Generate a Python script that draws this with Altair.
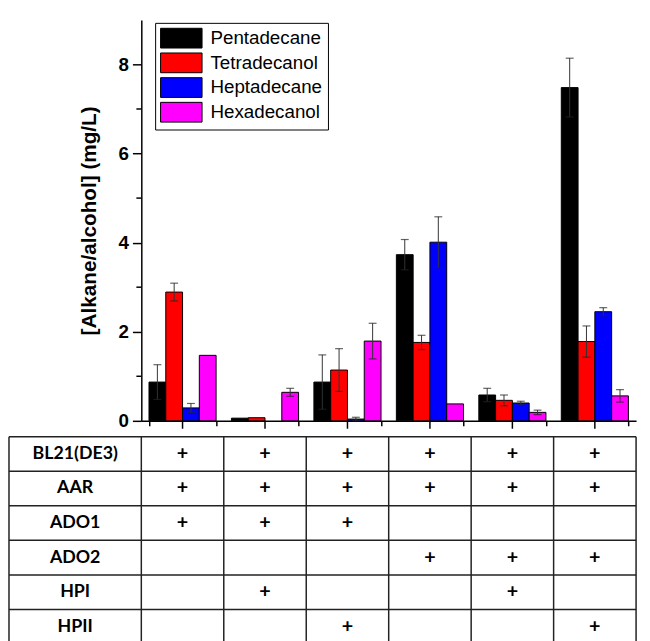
import altair as alt
import pandas as pd

# ---- data ----
groups = ["1", "2", "3", "4", "5", "6"]
series = ["Pentadecane", "Tetradecanol", "Heptadecane", "Hexadecanol"]
colors = ["#000000", "#FF0000", "#0000FF", "#FF00FF"]

pentadecane = [0.87, 0.06, 0.87, 3.73, 0.58, 7.48]
pentadecane_err = [0.39, 0.0, 0.61, 0.34, 0.15, 0.66]
tetradecanol = [2.89, 0.07, 1.14, 1.76, 0.46, 1.78]
tetradecanol_err = [0.20, 0.0, 0.48, 0.16, 0.12, 0.35]
heptadecane = [0.29, 0.0, 0.04, 4.01, 0.40, 2.45]
heptadecane_err = [0.10, 0.0, 0.04, 0.57, 0.04, 0.09]
hexadecanol = [1.47, 0.64, 1.79, 0.38, 0.19, 0.56]
hexadecanol_err = [0.0, 0.09, 0.40, 0.0, 0.05, 0.14]

row_labels = ["BL21(DE3)", "AAR", "ADO1", "ADO2", "HPI", "HPII"]
plus_matrix = [
    [1, 1, 1, 1, 1, 1],
    [1, 1, 1, 1, 1, 1],
    [1, 1, 1, 0, 0, 0],
    [0, 0, 0, 1, 1, 1],
    [0, 1, 0, 0, 1, 0],
    [0, 0, 1, 0, 0, 1],
]

y_ticks = [0, 2, 4, 6, 8]
y_minor = [1, 3, 5, 7]
y_max = 9

# ---- tables ----
vals = [pentadecane, tetradecanol, heptadecane, hexadecanol]
errs = [pentadecane_err, tetradecanol_err, heptadecane_err, hexadecanol_err]
rows = []
for s, v, e in zip(series, vals, errs):
    for g, vv, ee in zip(groups, v, e):
        rows.append({"group": g, "series": s, "value": vv, "err": ee,
                     "lo": max(vv - ee, 0), "hi": vv + ee})
df = pd.DataFrame(rows)
bar_df = df[df["value"] > 0]
err_df = df[df["err"] > 0]

W, H = 501, 406
FONT = "Liberation Sans"

x_enc = alt.X("group:N", sort=groups,
              scale=alt.Scale(domain=groups, paddingInner=0.186, paddingOuter=0.093),
              axis=alt.Axis(labels=False, title=None, tickBand="extent", tickSize=5,
                            tickWidth=1.5, tickColor="black", domainColor="black",
                            domainWidth=1.5, grid=False))
xo_enc = alt.XOffset("series:N", sort=series, scale=alt.Scale(domain=series, paddingInner=0, paddingOuter=0))
y_scale = alt.Scale(domain=[0, y_max], nice=False, zero=True)
y_axis = alt.Axis(values=y_ticks, title="[Alkane/alcohol] (mg/L)", grid=False,
                  tickSize=9, tickWidth=1.5, tickColor="black", domainColor="black",
                  domainWidth=1.5, labelFont=FONT, labelFontSize=19, labelFontWeight="bold",
                  labelColor="black", labelPadding=4, titleFont=FONT, titleFontSize=21,
                  titleFontWeight="bold", titleColor="black", titlePadding=19)

bars = alt.Chart(bar_df).mark_bar(stroke="black", strokeWidth=1).encode(
    x=x_enc, xOffset=xo_enc,
    y=alt.Y("value:Q", scale=y_scale, axis=y_axis),
    fill=alt.Fill("series:N", sort=series,
                  scale=alt.Scale(domain=series, range=colors),
                  legend=alt.Legend(title=None, orient="none", legendX=14, legendY=3,
                                    symbolType="M-2.1,-1H2.1V1H-2.1Z", symbolSize=400,
                                    symbolStrokeColor="black", symbolStrokeWidth=1,
                                    symbolOffset=11, labelOffset=19, labelFont=FONT,
                                    labelFontSize=19, labelColor="black", rowPadding=0,
                                    padding=5, strokeColor="black", fillColor="white",
                                    labelLimit=300)),
)

err_rule = alt.Chart(err_df).mark_rule(color="#333333", strokeWidth=1).encode(
    x=x_enc, xOffset=xo_enc,
    y=alt.Y("lo:Q", scale=y_scale, axis=y_axis), y2="hi:Q")
cap_hi = alt.Chart(err_df).mark_tick(color="#222222", thickness=1.2, size=8).encode(
    x=x_enc, xOffset=xo_enc, y=alt.Y("hi:Q", scale=y_scale, axis=y_axis))
cap_lo = alt.Chart(err_df).mark_tick(color="#222222", thickness=1.2, size=8).encode(
    x=x_enc, xOffset=xo_enc, y=alt.Y("lo:Q", scale=y_scale, axis=y_axis))

xticks = alt.Chart(pd.DataFrame({"group": groups})).mark_rule(color="black", strokeWidth=1.5).encode(
    x=x_enc, y=alt.value(H), y2=alt.value(H + 8))
yminor = alt.Chart(pd.DataFrame({"v": y_minor})).mark_rule(color="black", strokeWidth=1.5).encode(
    y=alt.Y("v:Q", scale=y_scale, axis=y_axis), x=alt.value(-5), x2=alt.value(0))

top = alt.layer(bars, err_rule, cap_hi, cap_lo, xticks, yminor).properties(width=W, height=H)

# ---- table below ----
n_cols = len(groups)
n_rows = len(row_labels)
LABEL_W = 134 / (W / n_cols)  # label column width in column units
ROW_H = 35

tx = alt.Scale(domain=[0, n_cols])
ty = alt.Scale(domain=[0, n_rows], reverse=True)

hlines = pd.DataFrame({"x": [-LABEL_W] * (n_rows + 1), "x2": [n_cols] * (n_rows + 1),
                       "y": list(range(n_rows + 1))})
vxs = [-LABEL_W] + list(range(n_cols + 1))
vlines = pd.DataFrame({"x": vxs, "y": [0] * len(vxs), "y2": [n_rows] * len(vxs)})
lab_df = pd.DataFrame({"x": [-LABEL_W / 2] * n_rows,
                       "y": [i + 0.5 for i in range(n_rows)], "t": row_labels})
plus_rows = []
for i, r in enumerate(plus_matrix):
    for j, f in enumerate(r):
        if f:
            plus_rows.append({"x": j + 0.5, "y": i + 0.5, "t": "+"})
plus_df = pd.DataFrame(plus_rows)

LINE = "#222222"
h = alt.Chart(hlines).mark_rule(color=LINE, strokeWidth=1.5).encode(
    x=alt.X("x:Q", scale=tx, axis=None), x2="x2:Q", y=alt.Y("y:Q", scale=ty, axis=None))
v = alt.Chart(vlines).mark_rule(color=LINE, strokeWidth=1.5).encode(
    x=alt.X("x:Q", scale=tx, axis=None), y=alt.Y("y:Q", scale=ty, axis=None), y2="y2:Q")
labs = alt.Chart(lab_df).mark_text(font="Lato", fontSize=18, fontWeight="bold", color="black").encode(
    x=alt.X("x:Q", scale=tx, axis=None), y=alt.Y("y:Q", scale=ty, axis=None), text="t:N")
plus = alt.Chart(plus_df).mark_text(font="Lato", fontSize=20, fontWeight="bold", color="black").encode(
    x=alt.X("x:Q", scale=tx, axis=None), y=alt.Y("y:Q", scale=ty, axis=None), text="t:N")

table = alt.layer(h, v, labs, plus).properties(width=W, height=ROW_H * n_rows)

chart = alt.vconcat(top, table, spacing=16, bounds="flush").properties(
    padding={"left": 0, "top": 8, "right": 5, "bottom": 0}
).configure_view(strokeWidth=0)

chart.save("out.html", embed_options={"renderer": "svg", "actions": False})
